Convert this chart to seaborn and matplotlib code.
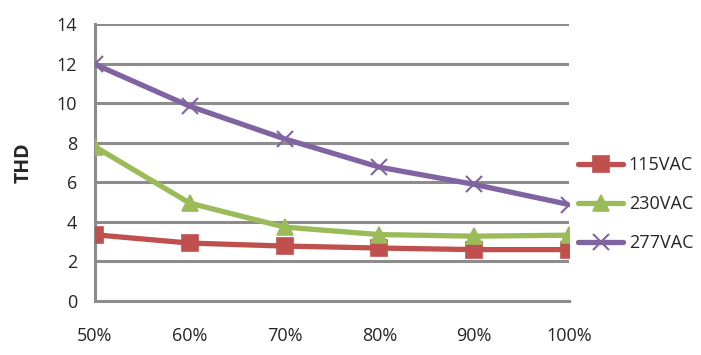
import matplotlib
matplotlib.use('Agg')
import matplotlib.pyplot as plt
import pandas as pd
import seaborn as sns

# -------------- data --------------
load_labels = ['50%', '60%', '70%', '80%', '90%', '100%']
thd_115 = [3.35, 2.93, 2.78, 2.68, 2.6, 2.6]
thd_230 = [7.8, 4.95, 3.74, 3.36, 3.28, 3.33]
thd_277 = [11.97, 9.85, 8.2, 6.77, 5.9, 4.88]
series_names = ['115VAC', '230VAC', '277VAC']

df = pd.DataFrame({
    'Load': list(range(len(load_labels))) * 3,
    'THD': thd_115 + thd_230 + thd_277,
    'Input': [n for n in series_names for _ in load_labels],
})

sns.set_style('white')
plt.rcParams['font.family'] = ['Open Sans', 'DejaVu Sans']

colors = {'115VAC': '#C0504D', '230VAC': '#9BBB59', '277VAC': '#8064A2'}
markers = {'115VAC': 's', '230VAC': '^', '277VAC': 'x'}

fig = plt.figure(figsize=(7.01, 3.55), dpi=100)
ax = fig.add_axes([0.1355, 0.152, 0.676, 0.78])

for name in series_names:
    d = df[df['Input'] == name]
    sns.lineplot(data=d, x='Load', y='THD', ax=ax, color=colors[name],
                 linewidth=3.8, marker=markers[name], markersize=11,
                 markeredgewidth=1.2 if name != '277VAC' else 1.5,
                 markeredgecolor=colors[name], label=name, zorder=3)

ax.set_xlim(0, 5)
ax.set_ylim(0, 14)
ax.set_yticks(range(0, 15, 2))
ax.set_xticks(range(len(load_labels)))
ax.set_xticklabels(load_labels)
ax.yaxis.grid(True, color='#8C8C8C', linewidth=2.2)
ax.xaxis.grid(False)
for s in ['top', 'right']:
    ax.spines[s].set_visible(False)
for s in ['left', 'bottom']:
    ax.spines[s].set_color('#8C8C8C')
    ax.spines[s].set_linewidth(2.2)
ax.tick_params(axis='both', which='both', direction='out', length=6, width=2.2,
               color='#8C8C8C', labelsize=13)
ax.tick_params(axis='y', pad=7)
ax.tick_params(axis='x', pad=13)
ax.set_xlabel('')
ax.set_ylabel('THD', fontsize=14, fontweight='bold', labelpad=16)

ax.legend(loc='center left', bbox_to_anchor=(1.02, 0.35), frameon=False,
          fontsize=13, handlelength=2.5, labelspacing=1.15, handletextpad=0.3,
          borderaxespad=0, borderpad=0)

fig.savefig('out.png', dpi=100)
